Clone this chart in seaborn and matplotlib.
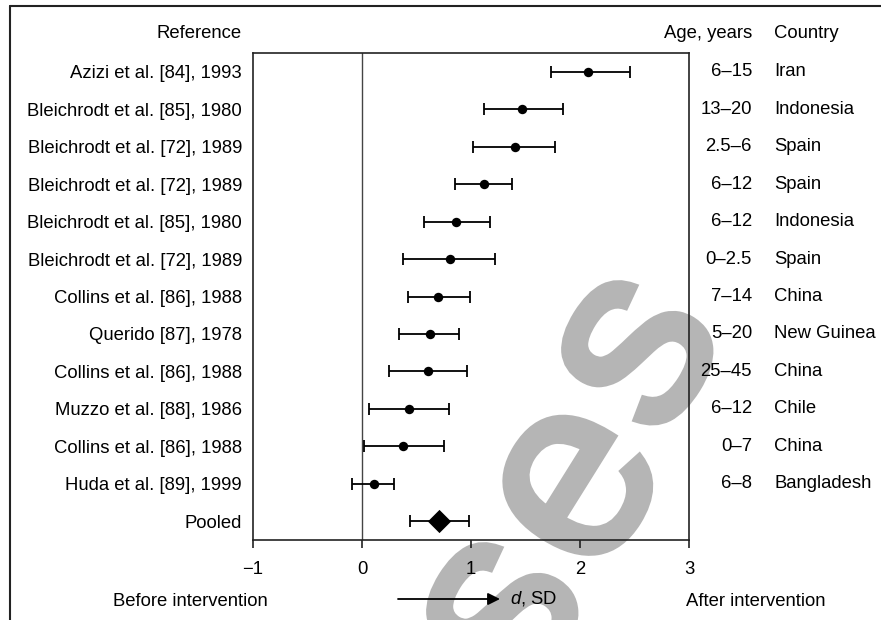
import matplotlib
matplotlib.use("Agg")
import matplotlib.pyplot as plt
import matplotlib.transforms as mtransforms
import matplotlib.patheffects as pe
from matplotlib.lines import Line2D
import numpy as np
import pandas as pd
import seaborn as sns

# ---------------- data ----------------
references = [
    "Azizi et al. [84], 1993",
    "Bleichrodt et al. [85], 1980",
    "Bleichrodt et al. [72], 1989",
    "Bleichrodt et al. [72], 1989",
    "Bleichrodt et al. [85], 1980",
    "Bleichrodt et al. [72], 1989",
    "Collins et al. [86], 1988",
    "Querido [87], 1978",
    "Collins et al. [86], 1988",
    "Muzzo et al. [88], 1986",
    "Collins et al. [86], 1988",
    "Huda et al. [89], 1999",
]
ages = ["6–15", "13–20", "2.5–6", "6–12", "6–12", "0–2.5", "7–14", "5–20",
        "25–45", "6–12", "0–7", "6–8"]
countries = ["Iran", "Indonesia", "Spain", "Spain", "Indonesia", "Spain", "China",
             "New Guinea", "China", "Chile", "China", "Bangladesh"]
effect = [2.07, 1.47, 1.40, 1.12, 0.86, 0.81, 0.70, 0.62, 0.61, 0.43, 0.375, 0.11]
lower = [1.73, 1.12, 1.02, 0.85, 0.57, 0.38, 0.42, 0.34, 0.25, 0.06, 0.02, -0.09]
upper = [2.46, 1.84, 1.77, 1.38, 1.17, 1.22, 0.99, 0.89, 0.96, 0.80, 0.75, 0.29]
pooled_label = "Pooled"
pooled_effect = [0.71]
pooled_lower = [0.44]
pooled_upper = [0.98]
x_ticks = [-1, 0, 1, 2, 3]

# ---------------- style ----------------
sns.set_style("ticks")
plt.rcParams["font.family"] = ["Liberation Sans", "DejaVu Sans"]
plt.rcParams["mathtext.fontset"] = "custom"
plt.rcParams["mathtext.it"] = "Liberation Sans:italic"
plt.rcParams["mathtext.rm"] = "Liberation Sans"
plt.rcParams["text.color"] = "black"
plt.rcParams["xtick.color"] = "black"
plt.rcParams["ytick.color"] = "black"
plt.rcParams["xtick.labelcolor"] = "black"
plt.rcParams["ytick.labelcolor"] = "black"
FS = 13.3
W, H = 881, 620

fig = plt.figure(figsize=(W / 100, H / 100), dpi=100)
fig.patch.set_facecolor("white")

def fx(px):
    return px / W

def fy(py):
    return 1 - py / H

# watermark behind everything
wm_color = "#b5b5b5"
for ch, (cx, cy) in zip(["s", "e", "s"], [(638, 352), (578, 486), (503, 614)]):
    fig.text(fx(cx), fy(cy), ch, fontsize=185, color=wm_color,
             rotation=58, ha="center", va="center", zorder=-5,
             family="Liberation Sans",
             path_effects=[pe.withStroke(linewidth=6, foreground=wm_color,
                                         joinstyle="miter")])

ax = fig.add_axes([fx(253), fy(540), fx(689) - fx(253), (540 - 53) / H])
ax.patch.set_alpha(0)

rows = list(range(len(references)))
df = pd.DataFrame({"ref": references, "effect": effect, "lower": lower,
                   "upper": upper, "row": rows})
pooled_row = [len(references)]
dfp = pd.DataFrame({"effect": pooled_effect, "lower": pooled_lower,
                    "upper": pooled_upper, "row": pooled_row})

ax.axvline(0, color="#444444", lw=1.0, zorder=1)

ax.errorbar(df["effect"], df["row"],
            xerr=[df["effect"] - df["lower"], df["upper"] - df["effect"]],
            fmt="none", ecolor="black", elinewidth=1.3, capsize=4, capthick=1.3, zorder=2)
ax.errorbar(dfp["effect"], dfp["row"],
            xerr=[dfp["effect"] - dfp["lower"], dfp["upper"] - dfp["effect"]],
            fmt="none", ecolor="black", elinewidth=1.3, capsize=4, capthick=1.3, zorder=2)
sns.scatterplot(data=df, x="effect", y="row", color="black", s=46, marker="o",
                edgecolor="black", linewidth=0, ax=ax, zorder=3)
sns.scatterplot(data=dfp, x="effect", y="row", color="black", s=140, marker="D",
                edgecolor="black", linewidth=0, ax=ax, zorder=3)

ax.set_xlim(-1, 3)
ax.set_ylim(len(references) + 0.5, -0.5)
ax.set_xticks(x_ticks)
ax.set_xticklabels([("\u2212" + str(-t)) if t < 0 else str(t) for t in x_ticks], fontsize=FS)
ax.set_yticks(rows + pooled_row)
ax.set_yticklabels(references + [pooled_label], fontsize=FS)
ax.tick_params(axis="y", length=0, pad=8)
ax.tick_params(axis="x", length=6, width=1.2, direction="out", pad=9, color="#222222")
ax.set_xlabel("")
ax.set_ylabel("")
for sp in ax.spines.values():
    sp.set_visible(True)
    sp.set_color("#222222")
    sp.set_linewidth(1.2)

# right-hand columns
trans = mtransforms.blended_transform_factory(fig.transFigure, ax.transData)
for r, a, c in zip(rows, ages, countries):
    ax.text(fx(752), r, a, transform=trans, ha="right", va="center", fontsize=FS,
            clip_on=False)
    ax.text(fx(774), r, c, transform=trans, ha="left", va="center", fontsize=FS,
            clip_on=False)

# headers
fig.text(fx(242), fy(33), "Reference", ha="right", va="center", fontsize=FS)
fig.text(fx(752), fy(33), "Age, years", ha="right", va="center", fontsize=FS)
fig.text(fx(774), fy(33), "Country", ha="left", va="center", fontsize=FS)

# bottom annotations
fig.text(fx(190), fy(601), "Before intervention", ha="center", va="center", fontsize=FS)
fig.text(fx(756), fy(601), "After intervention", ha="center", va="center", fontsize=FS)
fig.text(fx(510), fy(599), "$d$, SD", ha="left", va="center", fontsize=FS)
ax.annotate("", xy=(fx(500), fy(599)), xytext=(fx(398), fy(599)),
            xycoords="figure fraction", textcoords="figure fraction",
            arrowprops=dict(arrowstyle="-|>", color="black", lw=1.3,
                            mutation_scale=18, shrinkA=0, shrinkB=0),
            annotation_clip=False)

# outer frame (top and left edges)
fig.add_artist(Line2D([fx(9.5), 1.0], [fy(6), fy(6)], color="#222222", lw=1.5,
                      transform=fig.transFigure))
fig.add_artist(Line2D([fx(9.5), fx(9.5)], [0.0, fy(6)], color="#222222", lw=1.5,
                      transform=fig.transFigure))

fig.savefig("out.png", dpi=100)
